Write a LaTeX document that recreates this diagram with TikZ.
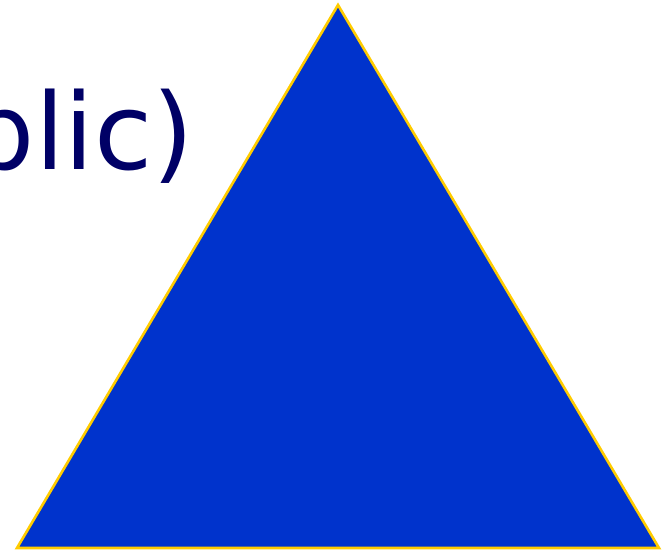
\documentclass[tikz,border=0pt]{standalone}
\usepackage{fontspec}
\setmainfont{DejaVu Sans}
\definecolor{tri}{HTML}{0033CC}
\definecolor{edge}{HTML}{FFCC00}
\definecolor{navy}{HTML}{000066}
\begin{document}
\begin{tikzpicture}[x=1pt,y=1pt,
  trianglestyle/.style={fill=tri,draw=edge,line width=2.6pt,line join=miter},
  labelstyle/.style={text=navy,inner sep=0pt,font=\fontsize{106}{120}\selectfont}]
\useasboundingbox (0,0) rectangle (662,551);
\coordinate (apex) at (338,546);
\coordinate (bl) at (17,3);
\coordinate (br) at (659,3);
\filldraw[trianglestyle] (apex) -- (br) -- (bl) -- cycle;
\node[labelstyle,anchor=base east] (lbl) at (194,381) {blic)};
\end{tikzpicture}
\end{document}
